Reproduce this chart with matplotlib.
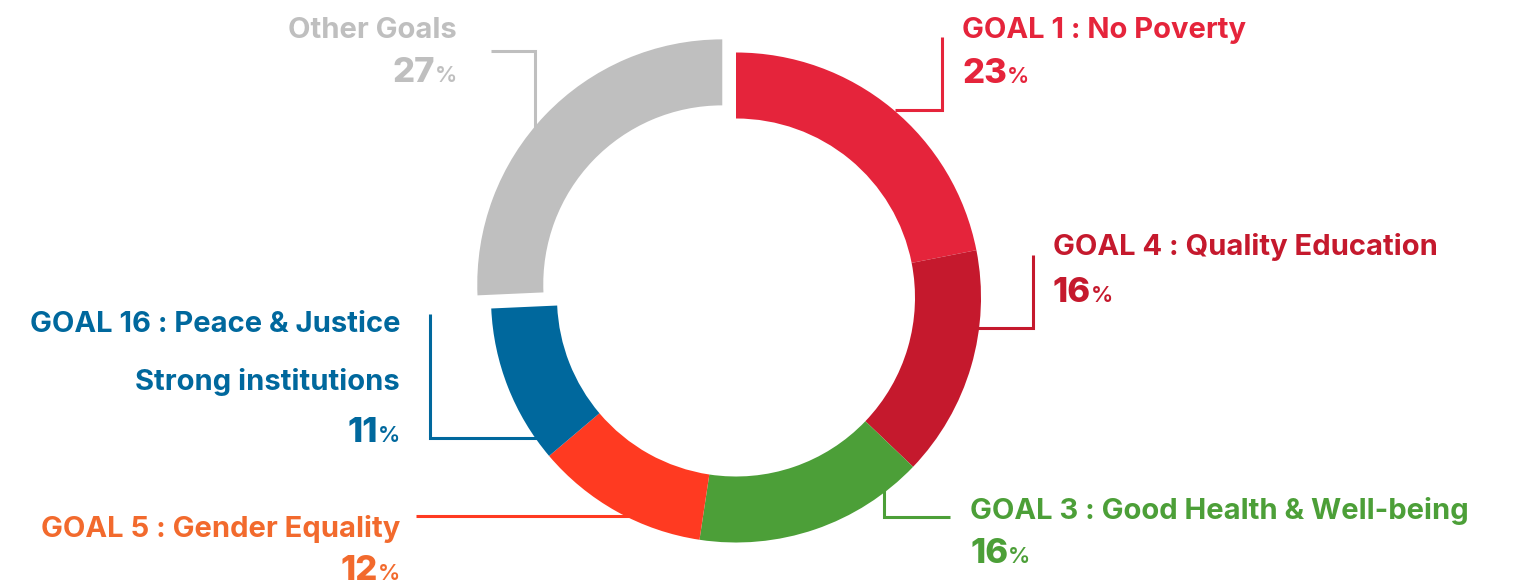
import matplotlib
matplotlib.use("Agg")
import matplotlib.pyplot as plt

# SDG share of projects (labels as printed)
goals = ["GOAL 1 : No Poverty", "GOAL 4 : Quality Education",
         "GOAL 3 : Good Health & Well-being", "GOAL 5 : Gender Equality",
         "GOAL 16 : Peace & Justice", "Other Goals"]
subtitles = ["", "", "", "", "Strong institutions", ""]
shares = [23, 16, 16, 12, 11, 27]

colors = ["#E5243B", "#C5192D", "#4C9F38", "#FF3A21", "#00689D", "#BFBFBF"]
text_colors = ["#E5243B", "#C5192D", "#4C9F38", "#F26A2D", "#00689D", "#BFBFBF"]

# label layout in pixel space: x, title baseline, subtitle baseline, value baseline, alignment
label_pos = [
    (962, 38, None, 83, "left"),
    (1053, 255, None, 302, "left"),
    (970, 519, None, 563, "left"),
    (400, 537, None, 580, "right"),
    (400, 332, 390, 442, "right"),
    (457, 38, None, 82, "right"),
]
# leader lines (they run under the ring so the inner ends are hidden)
leaders = [
    ([942, 942, 895], [37, 110, 110]),
    ([1033, 1033, 965], [255, 328, 328]),
    ([884, 884, 950], [470, 517, 517]),
    ([416, 640], [516, 516]),
    ([430, 430, 545], [314, 438, 438]),
    ([491, 535, 535], [51, 51, 135]),
]

plt.rcParams['font.family'] = ['Inter', 'DejaVu Sans']

fig = plt.figure(figsize=(15.13, 5.86), dpi=100)
ax = fig.add_axes([0, 0, 1, 1])

# y axis points down, so counterclock=True turns clockwise on screen
ax.pie(shares, colors=colors, startangle=-90, counterclock=True,
       radius=245, center=(736, 297.5), explode=[0, 0, 0, 0, 0, 19],
       wedgeprops=dict(width=66, linewidth=0, zorder=2))
ax.set_xlim(0, 1513)
ax.set_ylim(586, 0)
ax.set_aspect('equal')
ax.axis('off')

for (xs, ys), c in zip(leaders, colors):
    ax.plot(xs, ys, color=c, lw=2.2, solid_capstyle='butt',
            solid_joinstyle='miter', zorder=1)

for goal, sub, val, c, (x, yt, ys, yv, ha) in zip(goals, subtitles, shares,
                                                   text_colors, label_pos):
    ax.text(x, yt, goal, ha=ha, va='baseline', fontsize=21,
            fontweight='bold', color=c)
    if sub:
        ax.text(x, ys, sub, ha=ha, va='baseline', fontsize=21,
                fontweight='bold', color=c)
    if ha == "left":
        num = ax.text(x, yv, str(val), ha='left', va='baseline', fontsize=25,
                      fontweight='heavy', color=c)
        ax.annotate('%', xy=(1, yv), xycoords=(num, 'data'),
                    ha='left', va='baseline', fontsize=16,
                    fontweight='semibold', color=c)
    else:
        pct = ax.text(x, yv, '%', ha='right', va='baseline', fontsize=16,
                      fontweight='semibold', color=c)
        ax.annotate(str(val), xy=(0, yv), xycoords=(pct, 'data'),
                    ha='right', va='baseline', fontsize=25,
                    fontweight='heavy', color=c)

fig.savefig("out.png", dpi=100)
